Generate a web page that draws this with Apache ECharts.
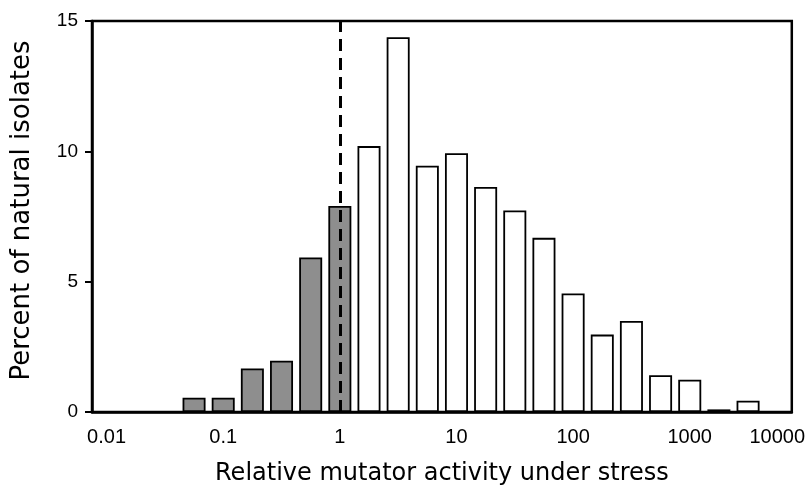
<!DOCTYPE html>
<html>
<head>
<meta charset="utf-8">
<script src="https://cdn.jsdelivr.net/npm/echarts@6/dist/echarts.min.js"></script>
<style>
html,body{margin:0;padding:0;background:#fff;}
#chart{width:808px;height:495px;}
</style>
</head>
<body>
<div id="chart"></div>
<script>
// bins (quarter-decade steps of relative mutator activity)
var categories = ['0.01','0.018','0.032','0.056','0.1','0.18','0.32','0.56','1','1.8','3.2','5.6',
                  '10','18','32','56','100','180','320','560','1000','1800','3200','5600'];
var tickLabels = ['0.01','','','','0.1','','','','1','','','','10','','','','100','','','','1000','','','10000'];
// percent of natural isolates per bin
var percentValues = [null,null,null,0.55,0.55,1.67,1.97,5.93,7.9,10.2,14.38,9.45,
                     9.93,8.63,7.73,6.68,4.55,2.97,3.49,1.41,1.24,0.1,0.43,null];
// bins at or below 1 are drawn shaded
var shadedUpTo = 8;
var yTicks = [0, 5, 10, 15];

var chart = echarts.init(document.getElementById('chart'));
var font = "'Liberation Sans', Arial, Helvetica, sans-serif";
var titleFont = "'DejaVu Sans', Verdana, sans-serif";
chart.setOption({
  animation: false,
  grid: {left: 92, right: 15, top: 21, bottom: 83, show: true, borderColor: '#000', borderWidth: 2.5, backgroundColor: 'transparent'},
  xAxis: {
    type: 'category',
    data: categories,
    boundaryGap: true,
    name: 'Relative mutator activity under stress',
    nameLocation: 'middle',
    nameGap: 50,
    nameTextStyle: {fontFamily: titleFont, fontSize: 24, color: '#000'},
    axisLine: {lineStyle: {color: '#000', width: 2.5}},
    axisTick: {alignWithLabel: true, interval: 0, length: 7, lineStyle: {color: '#000', width: 2.5}},
    axisLabel: {interval: 0, fontFamily: font, fontSize: 20, color: '#000', margin: 15,
      formatter: function (v, i) { return tickLabels[i]; }},
    splitLine: {show: false}
  },
  yAxis: {
    type: 'value',
    min: yTicks[0], max: yTicks[yTicks.length - 1], interval: 5,
    name: 'Percent of natural isolates',
    nameLocation: 'middle',
    nameGap: 57,
    nameTextStyle: {fontFamily: titleFont, fontSize: 26, color: '#000', padding: [0, 0, 0, 12]},
    axisLine: {show: true, lineStyle: {color: '#000', width: 2.5}},
    axisTick: {show: true, length: 7, lineStyle: {color: '#000', width: 2}},
    axisLabel: {fontFamily: font, fontSize: 19, color: '#000', margin: 14},
    splitLine: {show: false}
  },
  series: [{
    type: 'bar',
    data: percentValues,
    barWidth: 23,
    itemStyle: {
      borderColor: '#000',
      borderWidth: 1.8,
      color: function (p) { return p.dataIndex <= shadedUpTo ? '#8e8e8e' : '#fff'; }
    },
    markLine: {
      silent: true,
      symbol: 'none',
      label: {show: false},
      lineStyle: {color: '#000', width: 3, type: [12, 7]},
      data: [{xAxis: '1'}]
    }
  }]
});
</script>
</body>
</html>
